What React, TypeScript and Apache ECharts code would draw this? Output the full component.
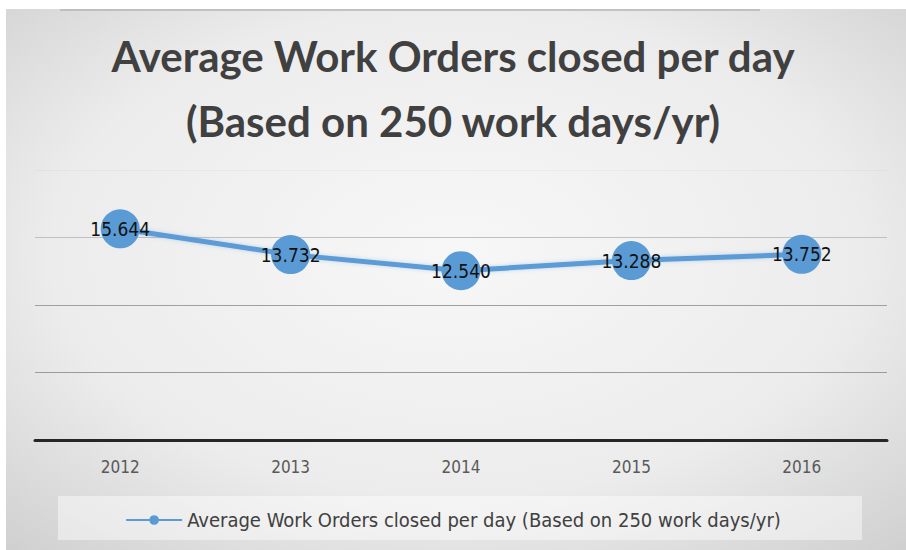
import React, { useEffect, useRef } from "react";
import * as echarts from "echarts";

const years = ["2012", "2013", "2014", "2015", "2016"];
const values = [15.644, 13.732, 12.54, 13.288, 13.752];
const seriesName = "Average Work Orders closed per day (Based on 250 work days/yr)";
const titleText = "Average Work Orders closed per day\n(Based on 250 work days/yr)";
const narrow = "'DejaVu Sans Condensed', Lato, sans-serif";

export default function App() {
  const ref = useRef<HTMLDivElement>(null);
  useEffect(() => {
    if (!ref.current) return;
    const chart = echarts.init(ref.current, null, { renderer: "svg" });
    chart.setOption({
      animation: false,
      backgroundColor: "#ffffff",
      graphic: [
        {
          type: "rect",
          z: -100,
          shape: { x: 6, y: 9, width: 900, height: 541 },
          style: {
            fill: new echarts.graphic.RadialGradient(0.5, 0.45, 0.75, [
              { offset: 0, color: "#f7f7f7" },
              { offset: 0.6, color: "#ececec" },
              { offset: 1, color: "#cfcfcf" },
            ]),
          },
        },
        {
          type: "line",
          z: -99,
          shape: { x1: 60, y1: 10, x2: 760, y2: 10 },
          style: { stroke: "#b5b5b5", lineWidth: 1.5 },
        },
        {
          type: "rect",
          z: -98,
          shape: { x: 58, y: 496, width: 804, height: 44 },
          style: { fill: "rgba(255,255,255,0.45)" },
        },
      ],
      title: {
        text: titleText,
        left: "center",
        top: 18,
        textStyle: {
          fontFamily: "Lato",
          fontWeight: "bold",
          fontSize: 42,
          lineHeight: 65,
          color: "#404040",
        },
      },
      legend: {
        data: [seriesName],
        bottom: 15,
        left: "center",
        itemWidth: 56,
        itemHeight: 12,
        itemGap: 4,
        textStyle: {
          fontFamily: narrow,
          fontSize: 20,
          color: "#404040",
        },
      },
      grid: { left: 35, right: 19, top: 170, bottom: 110 },
      xAxis: {
        type: "category",
        data: years,
        boundaryGap: true,
        axisLine: { show: true, lineStyle: { color: "#262626", width: 3 } },
        axisTick: { show: false },
        axisLabel: {
          fontFamily: narrow,
          fontSize: 17,
          color: "#595959",
          margin: 18,
        },
      },
      yAxis: {
        type: "value",
        min: 0,
        max: 20,
        interval: 5,
        axisLabel: { show: false },
        axisLine: { show: false },
        axisTick: { show: false },
        splitLine: {
          lineStyle: {
            color: ["#8c8c8c", "#9a9a9a", "#a0a0a0", "#c0c0c0", "rgba(0,0,0,0.03)"],
            width: 1.2,
          },
        },
      },
      series: [
        {
          name: seriesName,
          type: "line",
          data: values,
          symbol: "circle",
          symbolSize: 39,
          lineStyle: {
            color: "#5b9bd5",
            width: 5,
            shadowColor: "rgba(91,155,213,0.35)",
            shadowBlur: 4,
          },
          itemStyle: { color: "#5b9bd5" },
          label: {
            show: true,
            position: "inside",
            formatter: (p: any) => Number(p.value).toFixed(3),
            fontFamily: narrow,
            fontSize: 19,
            color: "#111111",
          },
        },
      ],
    });
    return () => chart.dispose();
  }, []);
  return (
    <div
      ref={ref}
      style={{ position: "absolute", left: 0, top: 0, width: 906, height: 550 }}
    />
  );
}
